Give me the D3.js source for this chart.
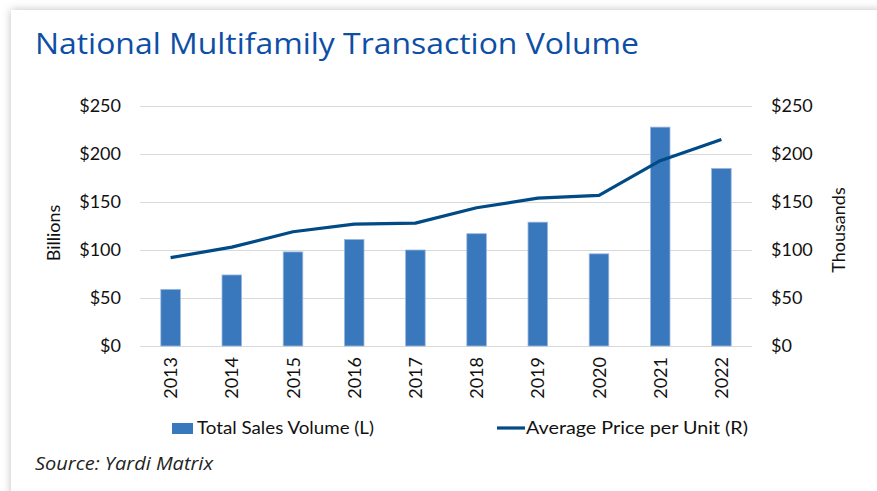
<!DOCTYPE html>
<html><head><meta charset="utf-8">
<script src="https://cdn.jsdelivr.net/npm/d3@7"></script>
<style>html,body{margin:0;padding:0;background:#fff;}svg{display:block;}</style>
</head><body>
<svg id="chart" width="877" height="491"></svg>
<script>
const years = ["2013","2014","2015","2016","2017","2018","2019","2020","2021","2022"];
const salesVolume = [59, 74, 98, 111, 100, 117, 129, 96, 228, 185];      // $ billions (L)
const avgPrice = [92, 103, 119, 127, 128, 144, 154, 157, 193, 215];       // $ thousands (R)
const tickValues = [0, 50, 100, 150, 200, 250];

(function(){
const svg = d3.select("#chart");
const defs = svg.append("defs");
const f = defs.append("filter").attr("id","sh").attr("x","-5%").attr("y","-5%").attr("width","110%").attr("height","110%");
f.append("feDropShadow").attr("dx",0).attr("dy",0).attr("stdDeviation",4).attr("flood-color","#000").attr("flood-opacity",0.25);

svg.append("rect").attr("width",877).attr("height",491).attr("fill","#fff");
svg.append("rect").attr("x",11).attr("y",10).attr("width",900).attr("height",520).attr("fill","#fff").attr("filter","url(#sh)");

const font = "Lato, 'Open Sans', sans-serif";
const tfont = "'Open Sans', Lato, sans-serif";
const pL = 140, pR = 752, pT = 106, pB = 346;
const x = d3.scaleBand().domain(years).range([pL, pR]).paddingInner(0.68).paddingOuter(0.34);
const yL = d3.scaleLinear().domain([0, 250]).range([pB, pT]);
const yR = d3.scaleLinear().domain([0, 250]).range([pB, pT]);

svg.append("text").attr("x",35).attr("y",54).text("National Multifamily Transaction Volume")
  .attr("font-family",tfont).attr("font-size",30).attr("fill","#0d4ea6").attr("font-weight",400)
  .attr("textLength",604).attr("lengthAdjust","spacingAndGlyphs");

const grid = svg.append("g").attr("transform",`translate(${pL},0)`)
  .call(d3.axisRight(yL).tickValues(tickValues).tickSize(pR-pL).tickFormat(""));
grid.select(".domain").remove();
grid.selectAll("line").attr("stroke","#d9d9d9").attr("stroke-width",1.2);

const ax = svg.append("g").attr("transform",`translate(${pL},0)`)
  .call(d3.axisLeft(yL).tickValues(tickValues).tickSize(0).tickPadding(19).tickFormat(d => "$" + d));
ax.select(".domain").remove();
ax.selectAll("text").attr("font-family",font).attr("font-size",18).attr("fill","#111");

const axR = svg.append("g").attr("transform",`translate(${pR},0)`)
  .call(d3.axisRight(yR).tickValues(tickValues).tickSize(0).tickPadding(19).tickFormat(d => "$" + d));
axR.select(".domain").remove();
axR.selectAll("text").attr("font-family",font).attr("font-size",18).attr("fill","#111");

svg.append("text").attr("transform","translate(60,233) rotate(-90)").attr("text-anchor","middle")
  .text("Billions").attr("font-family",font).attr("font-size",18).attr("fill","#111");
svg.append("text").attr("transform","translate(845,230) rotate(-90)").attr("text-anchor","middle")
  .text("Thousands").attr("font-family",font).attr("font-size",18).attr("fill","#111");

svg.append("g").selectAll("rect").data(years).join("rect")
  .attr("x", d => x(d)).attr("width", x.bandwidth())
  .attr("y", (d,i) => yL(salesVolume[i])).attr("height", (d,i) => pB - yL(salesVolume[i]))
  .attr("fill","#3a78bd").attr("stroke","#9bb8df").attr("stroke-width",0.8);

const line = d3.line().x(d => x(d.year) + x.bandwidth()/2).y(d => yR(d.v));
svg.append("path").datum(years.map((y,i)=>({year:y, v:avgPrice[i]})))
  .attr("d", line).attr("fill","none").attr("stroke","#004a86").attr("stroke-width",3.2).attr("stroke-linejoin","round");

svg.append("g").selectAll("text").data(years).join("text")
  .attr("transform", d => `translate(${x(d)+x.bandwidth()/2+6.5},357) rotate(-90)`)
  .attr("text-anchor","end").text(d => d)
  .attr("font-family",font).attr("font-size",18).attr("fill","#111");

svg.append("rect").attr("x",172).attr("y",423).attr("width",21).attr("height",11).attr("fill","#3a78bd");
svg.append("text").attr("x",197).attr("y",434).text("Total Sales Volume (L)")
  .attr("font-family",font).attr("font-size",18).attr("fill","#111")
  .attr("textLength",177).attr("lengthAdjust","spacingAndGlyphs");
svg.append("line").attr("x1",497).attr("x2",525).attr("y1",428).attr("y2",428).attr("stroke","#004a86").attr("stroke-width",3.2);
svg.append("text").attr("x",526).attr("y",434).text("Average Price per Unit (R)")
  .attr("font-family",font).attr("font-size",18).attr("fill","#111")
  .attr("textLength",222).attr("lengthAdjust","spacingAndGlyphs");

svg.append("text").attr("x",35).attr("y",470).text("Source: Yardi Matrix")
  .attr("font-family",tfont).attr("font-size",18).attr("font-style","italic").attr("fill","#222")
  .attr("textLength",178).attr("lengthAdjust","spacingAndGlyphs");
})();
</script>
</body></html>
